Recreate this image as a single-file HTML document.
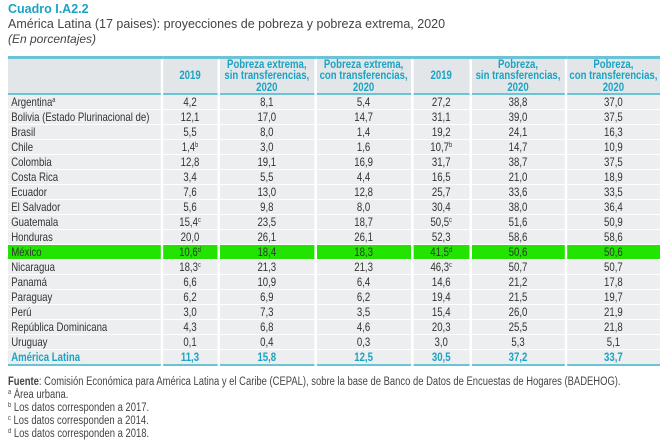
<!DOCTYPE html>
<html><head><meta charset="utf-8"><style>
body{margin:0;width:668px;height:443px;background:#fff;font-family:"Liberation Sans",sans-serif;color:#333;position:relative;overflow:hidden}
.t1{position:absolute;left:8px;top:2px;font-size:12.5px;color:#1aa3c4;font-weight:bold}
.t2{position:absolute;left:8px;top:17px;font-size:12.5px;color:#444}
.t3{position:absolute;left:8px;top:32px;font-size:12px;color:#444;font-style:italic}
table{position:absolute;left:8px;top:56px;width:815px;border-collapse:collapse;table-layout:fixed;font-size:12px;transform:scaleX(0.8);transform-origin:0 0}
td,th{padding:0;height:14px;line-height:14px;border-bottom:1px solid #fff;border-left:3px solid #fff;background:#eceeef;white-space:nowrap;overflow:hidden}
td:first-child,th:first-child{border-left:none}
th{background:#e3e6e8;color:#1aa3c4;font-weight:bold;line-height:11.3px;vertical-align:middle;height:34px;padding:0;border-top:3px solid #6cc3d5;border-bottom:2px solid #6cc3d5}
td{text-align:center}
td:first-child{text-align:left;padding-left:4px}
tr.mx td{background:#22e400}
tr.al td{color:#1aa3c4;font-weight:bold;border-bottom:2px solid #6cc3d5}
sup{font-size:7px;line-height:0;vertical-align:4px}
.f{position:absolute;left:8px;font-size:11.5px;color:#444;white-space:nowrap;transform:scaleX(0.82);transform-origin:0 0}
</style></head><body>
<div class="t1">Cuadro I.A2.2</div>
<div class="t2">América Latina (17 paises): proyecciones de pobreza y pobreza extrema, 2020</div>
<div class="t3">(En porcentajes)</div>
<table>
<colgroup><col style="width:192px"><col style="width:71px"><col style="width:121px"><col style="width:121px"><col style="width:73px"><col style="width:119px"><col style="width:118px"></colgroup>
<tr><th></th><th>2019</th><th>Pobreza extrema,<br>sin transferencias,<br>2020</th><th>Pobreza extrema,<br>con transferencias,<br>2020</th><th>2019</th><th>Pobreza,<br>sin transferencias,<br>2020</th><th>Pobreza,<br>con transferencias,<br>2020</th></tr>
<tr><td>Argentina<sup>a</sup></td><td>4,2</td><td>8,1</td><td>5,4</td><td>27,2</td><td>38,8</td><td>37,0</td></tr>
<tr><td>Bolivia (Estado Plurinacional de)</td><td>12,1</td><td>17,0</td><td>14,7</td><td>31,1</td><td>39,0</td><td>37,5</td></tr>
<tr><td>Brasil</td><td>5,5</td><td>8,0</td><td>1,4</td><td>19,2</td><td>24,1</td><td>16,3</td></tr>
<tr><td>Chile</td><td>1,4<sup>b</sup></td><td>3,0</td><td>1,6</td><td>10,7<sup>b</sup></td><td>14,7</td><td>10,9</td></tr>
<tr><td>Colombia</td><td>12,8</td><td>19,1</td><td>16,9</td><td>31,7</td><td>38,7</td><td>37,5</td></tr>
<tr><td>Costa Rica</td><td>3,4</td><td>5,5</td><td>4,4</td><td>16,5</td><td>21,0</td><td>18,9</td></tr>
<tr><td>Ecuador</td><td>7,6</td><td>13,0</td><td>12,8</td><td>25,7</td><td>33,6</td><td>33,5</td></tr>
<tr><td>El Salvador</td><td>5,6</td><td>9,8</td><td>8,0</td><td>30,4</td><td>38,0</td><td>36,4</td></tr>
<tr><td>Guatemala</td><td>15,4<sup>c</sup></td><td>23,5</td><td>18,7</td><td>50,5<sup>c</sup></td><td>51,6</td><td>50,9</td></tr>
<tr><td>Honduras</td><td>20,0</td><td>26,1</td><td>26,1</td><td>52,3</td><td>58,6</td><td>58,6</td></tr>
<tr class="mx"><td>México</td><td>10,6<sup>d</sup></td><td>18,4</td><td>18,3</td><td>41,5<sup>d</sup></td><td>50,6</td><td>50,6</td></tr>
<tr><td>Nicaragua</td><td>18,3<sup>c</sup></td><td>21,3</td><td>21,3</td><td>46,3<sup>c</sup></td><td>50,7</td><td>50,7</td></tr>
<tr><td>Panamá</td><td>6,6</td><td>10,9</td><td>6,4</td><td>14,6</td><td>21,2</td><td>17,8</td></tr>
<tr><td>Paraguay</td><td>6,2</td><td>6,9</td><td>6,2</td><td>19,4</td><td>21,5</td><td>19,7</td></tr>
<tr><td>Perú</td><td>3,0</td><td>7,3</td><td>3,5</td><td>15,4</td><td>26,0</td><td>21,9</td></tr>
<tr><td>República Dominicana</td><td>4,3</td><td>6,8</td><td>4,6</td><td>20,3</td><td>25,5</td><td>21,8</td></tr>
<tr><td>Uruguay</td><td>0,1</td><td>0,4</td><td>0,3</td><td>3,0</td><td>5,3</td><td>5,1</td></tr>
<tr class="al"><td>América Latina</td><td>11,3</td><td>15,8</td><td>12,5</td><td>30,5</td><td>37,2</td><td>33,7</td></tr>
</table>
<div class="f" style="top:376px"><b>Fuente</b>: Comisión Económica para América Latina y el Caribe (CEPAL), sobre la base de Banco de Datos de Encuestas de Hogares (BADEHOG).</div>
<div class="f" style="top:389px"><sup>a</sup> Área urbana.</div>
<div class="f" style="top:402px"><sup>b</sup> Los datos corresponden a 2017.</div>
<div class="f" style="top:415px"><sup>c</sup> Los datos corresponden a 2014.</div>
<div class="f" style="top:428px"><sup>d</sup> Los datos corresponden a 2018.</div>
</body></html>
